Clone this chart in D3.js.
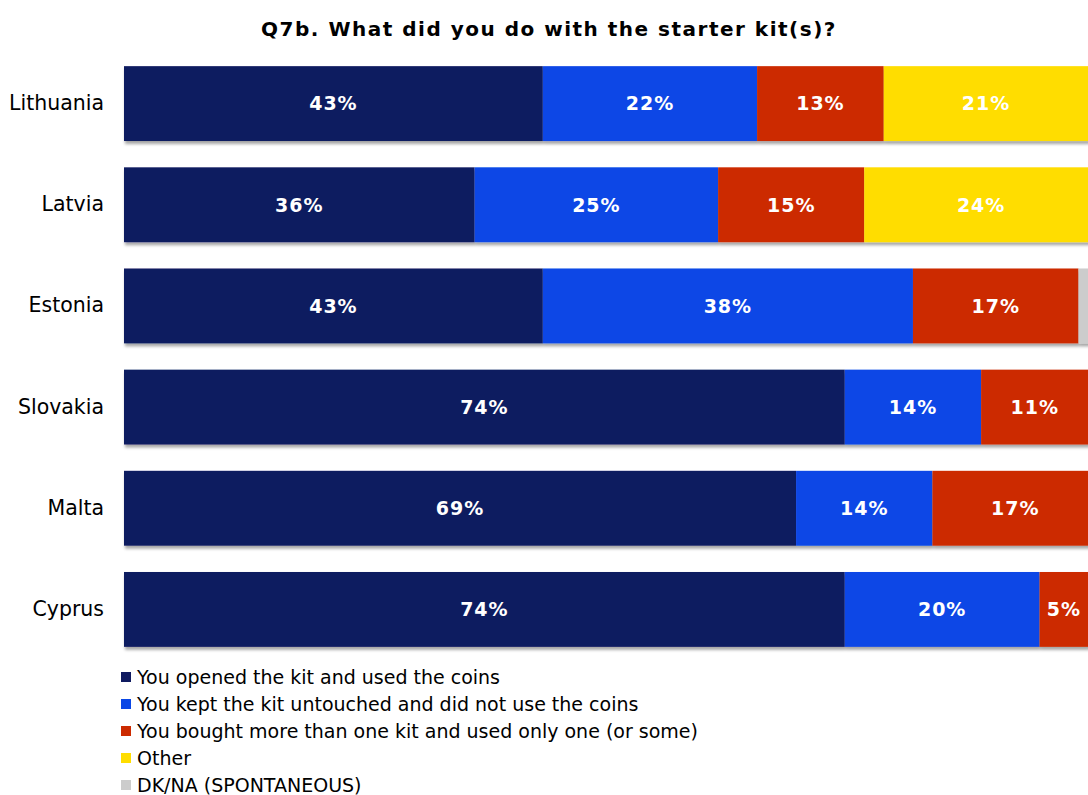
<!DOCTYPE html>
<html>
<head>
<meta charset="utf-8">
<script src="https://cdn.jsdelivr.net/npm/d3@7"></script>
<style>
  html, body { margin: 0; padding: 0; background: #fff; }
  svg { display: block; font-family: "DejaVu Sans", Verdana, sans-serif; }
</style>
</head>
<body>
<svg id="chart" width="1088" height="795"></svg>
<script>
// Survey answers by country (percent)
const countries = ["Lithuania", "Latvia", "Estonia", "Slovakia", "Malta", "Cyprus"];
const seriesNames = [
  "You opened the kit and used the coins",
  "You kept the kit untouched and did not use the coins",
  "You bought more than one kit and used only one (or some)",
  "Other",
  "DK/NA (SPONTANEOUS)"
];
const openedUsed    = [43, 36, 43, 74, 69, 74];
const keptUntouched = [22, 25, 38, 14, 14, 20];
const boughtMore    = [13, 15, 17, 11, 17, 5];
const other         = [21, 24, 0, 0, 0, 0];
const dkna          = [1, 0, 2, 1, 0, 1];
const colors = ["#0f1a60", "#0a47e6", "#cc2a00", "#ffdd00", "#cccccc"];

const seriesValues = [openedUsed, keptUntouched, boughtMore, other, dkna];
const rows = countries.map((c, i) => {
  const r = { country: c };
  seriesNames.forEach((s, k) => r[s] = seriesValues[k][i]);
  return r;
});

const svg = d3.select("#chart");

const defs = svg.append("defs");
const f = defs.append("filter").attr("id", "shadow")
  .attr("x", "-5%").attr("y", "-20%").attr("width", "110%").attr("height", "150%");
f.append("feDropShadow").attr("dx", 1).attr("dy", 3).attr("stdDeviation", 1.4)
  .attr("flood-color", "#000").attr("flood-opacity", 0.35);

svg.append("text")
  .attr("x", 549).attr("y", 36)
  .attr("text-anchor", "middle")
  .attr("font-weight", "bold")
  .attr("font-size", 20)
  .attr("letter-spacing", 1.5)
  .attr("fill", "#000")
  .text("Q7b. What did you do with the starter kit(s)?");

const x = d3.scaleLinear().domain([0, 100]).range([124, 124 + 974]);
const y = d3.scaleBand().domain(countries).range([53, 660]).paddingInner(0.26).paddingOuter(0.13);

const stack = d3.stack().keys(seriesNames);
const layers = stack(rows);

// each bar gets its own group so the shadow sits under the whole stack
const barG = svg.append("g");
const rowsG = barG.selectAll("g.row").data(countries).join("g")
  .attr("class", "row")
  .attr("filter", "url(#shadow)");

rowsG.each(function (c, i) {
  const g = d3.select(this);
  layers.forEach((layer, k) => {
    const d = layer[i];
    if (d[1] - d[0] <= 0) return;
    g.append("rect")
      .attr("x", x(d[0]))
      .attr("y", y(c))
      .attr("width", x(d[1]) - x(d[0]))
      .attr("height", y.bandwidth())
      .attr("fill", colors[k]);
  });
});

// value labels
const labelG = svg.append("g");
layers.forEach((layer, k) => {
  layer.forEach((d, i) => {
    const v = d[1] - d[0];
    if (v < 3) return;
    labelG.append("text")
      .attr("x", (x(d[0]) + x(d[1])) / 2)
      .attr("y", y(countries[i]) + y.bandwidth() / 2)
      .attr("dy", "0.36em")
      .attr("text-anchor", "middle")
      .attr("font-weight", "bold")
      .attr("font-size", 19)
      .attr("letter-spacing", 1)
      .attr("fill", "#fff")
      .text(v + "%");
  });
});

// category axis
const yAxis = svg.append("g").attr("transform", "translate(104,0)")
  .call(d3.axisLeft(y).tickSize(0).tickPadding(0));
yAxis.select(".domain").remove();
yAxis.selectAll("text")
  .attr("font-size", 20.5)
  .attr("fill", "#000")
  .attr("font-family", "DejaVu Sans, Verdana, sans-serif");

// legend
const legend = svg.append("g");
seriesNames.forEach((s, k) => {
  const cy = 677 + k * 27;
  legend.append("rect")
    .attr("x", 121).attr("y", cy - 5).attr("width", 10).attr("height", 10)
    .attr("fill", colors[k]);
  legend.append("text")
    .attr("x", 137).attr("y", cy).attr("dy", "0.36em")
    .attr("font-size", 19).attr("fill", "#000")
    .text(s);
});
</script>
</body>
</html>
